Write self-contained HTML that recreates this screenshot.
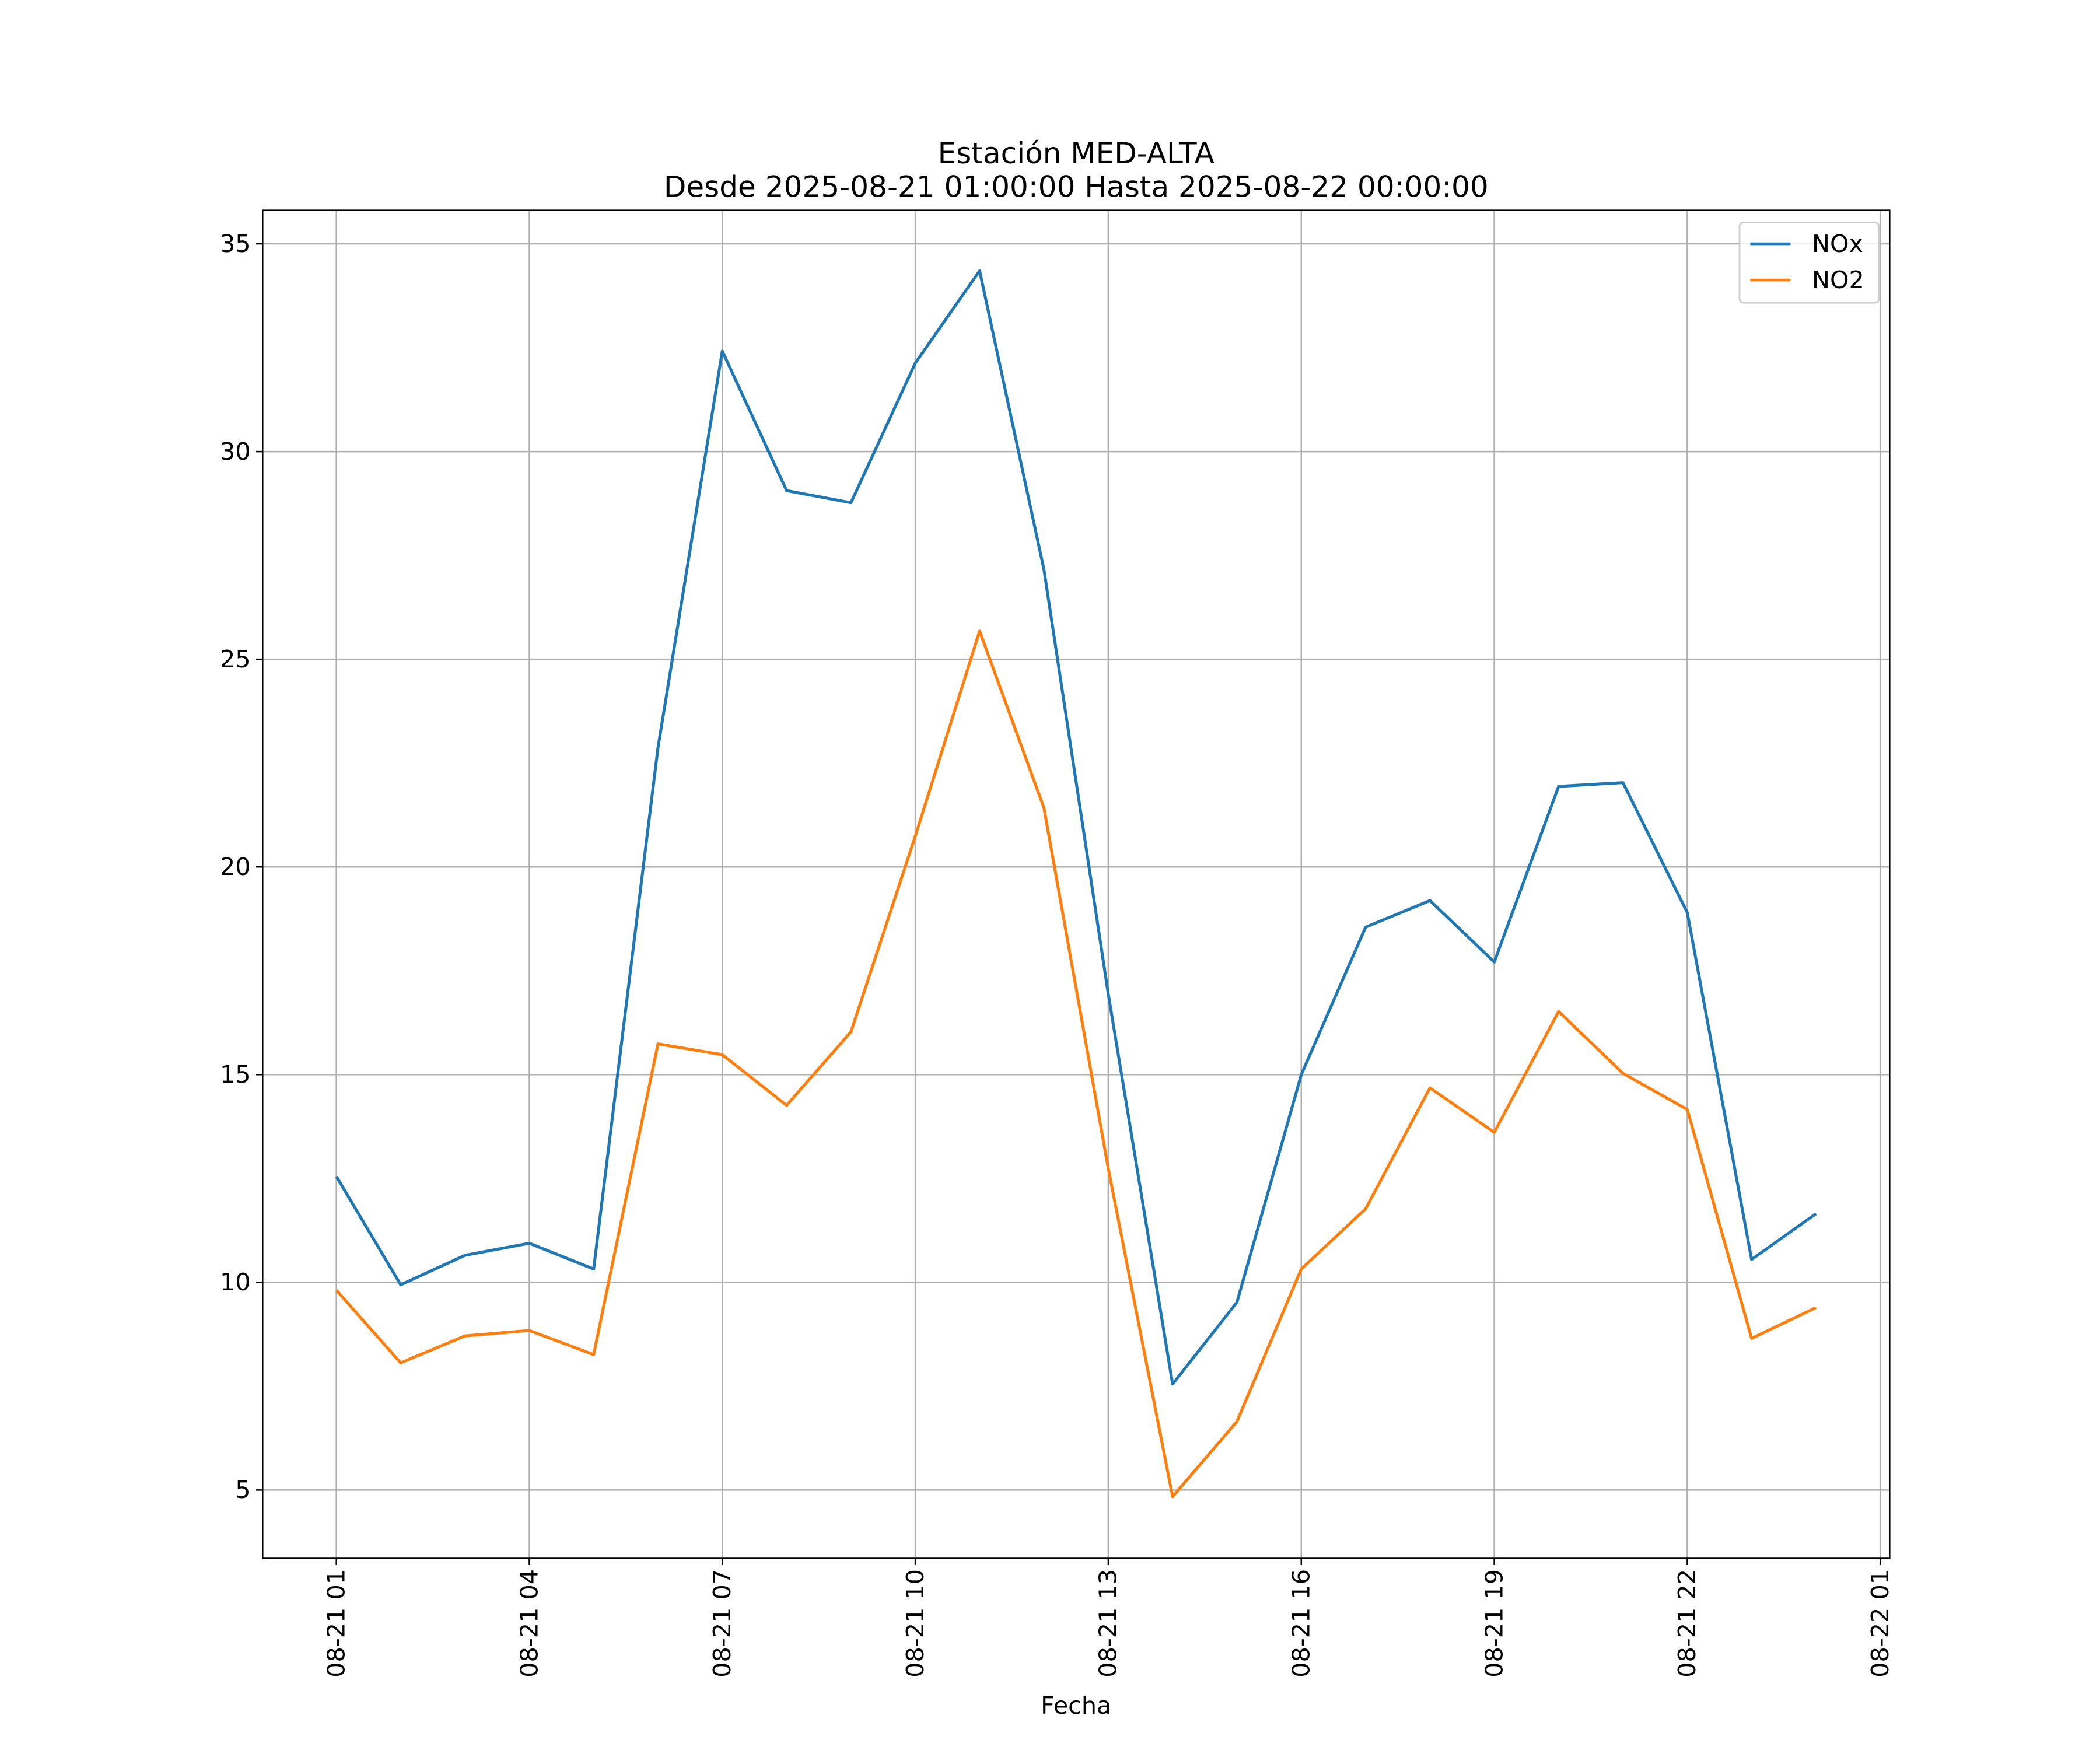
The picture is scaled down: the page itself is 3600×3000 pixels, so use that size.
<!DOCTYPE html>
<html><head><meta charset="utf-8"><style>
html,body{margin:0;padding:0;background:#fff}
svg{display:block;font-family:"DejaVu Sans","Liberation Sans",sans-serif}
</style></head><body>
<svg id="chart" width="3600" height="3000" viewBox="0 0 1567 1306" preserveAspectRatio="none" xmlns="http://www.w3.org/2000/svg">
<rect width="1567" height="1306" fill="#fff"/>
<g id="grid"></g>
<g id="series"></g>
<rect x="196" y="157" width="1214" height="1006" fill="none" stroke="#000" stroke-width="1.1"/>
<g id="ticks"></g>
<text x="803" y="122" text-anchor="middle" font-size="21.8">Estación MED-ALTA</text>
<text x="803" y="147" text-anchor="middle" font-size="21.8">Desde 2025-08-21 01:00:00 Hasta 2025-08-22 00:00:00</text>
<text x="803" y="1279" text-anchor="middle" font-size="18">Fecha</text>
<g>
<rect x="1298" y="166" width="104" height="60" rx="3" fill="#fff" fill-opacity="0.8" stroke="#ccc" stroke-width="1.2"/>
<line x1="1306" y1="182" x2="1336" y2="182" stroke="#1f77b4" stroke-width="2"/>
<text x="1352" y="188" font-size="18">NOx</text>
<line x1="1306" y1="209" x2="1336" y2="209" stroke="#ff7f0e" stroke-width="2"/>
<text x="1352" y="215" font-size="18">NO2</text>
</g>
</svg>
<script>
const hours = [1,2,3,4,5,6,7,8,9,10,11,12,13,14,15,16,17,18,19,20,21,22,23,24];
const noxValues = [12.55,9.94,10.65,10.94,10.32,22.87,32.42,29.06,28.77,32.13,34.35,27.16,16.94,7.55,9.52,15.0,18.55,19.19,17.71,21.94,22.03,18.9,10.55,11.65];
const no2Values = [9.81,8.06,8.71,8.84,8.26,15.74,15.48,14.26,16.03,20.74,25.68,21.42,12.74,4.84,6.65,10.32,11.77,14.68,13.61,16.52,15.03,14.16,8.65,9.39];
const yTicks = [5,10,15,20,25,30,35];
const xTickHours = [1,4,7,10,13,16,19,22,25];
const xTickLabels = ["08-21 01","08-21 04","08-21 07","08-21 10","08-21 13","08-21 16","08-21 19","08-21 22","08-22 01"];

const X0=196,X1=1410,Y0=1163,Y1=157;
const xMin=-0.146, xMax=25.146, yMin=3.355, yMax=35.806;
const xs=h=>X0+(h-xMin)/(xMax-xMin)*(X1-X0);
const ys=v=>Y0-(v-yMin)/(yMax-yMin)*(Y0-Y1);
const NS="http://www.w3.org/2000/svg";
const grid=document.getElementById('grid'),ticks=document.getElementById('ticks'),ser=document.getElementById('series');
function mk(tag,attrs,parent){const e=document.createElementNS(NS,tag);for(const k in attrs)e.setAttribute(k,attrs[k]);parent.appendChild(e);return e;}
yTicks.forEach(v=>{
  const y=ys(v);
  const g=mk('line',{x1:X0,x2:X1,y1:y,y2:y,stroke:'#b0b0b0','stroke-width':1.1},grid);
  
  
  const t=mk('line',{x1:X0-5,x2:X0,y1:y,y2:y,stroke:'#000','stroke-width':1.1},ticks);
  
  
  const l=mk('text',{x:X0-9,y:y+6,'text-anchor':'end','font-size':18},ticks);
  l.textContent=v;
  
  
});
xTickHours.forEach((h,i)=>{
  const x=xs(h);
  const g=mk('line',{x1:x,x2:x,y1:Y0,y2:Y1,stroke:'#b0b0b0','stroke-width':1.1},grid);
  
  
  const t=mk('line',{x1:x,x2:x,y1:Y0,y2:Y0+5,stroke:'#000','stroke-width':1.1},ticks);
  
  
  const l=mk('text',{x:0,y:0,'text-anchor':'end','font-size':18,transform:`translate(${x+6},${Y0+8}) rotate(-90)`},ticks);
  l.textContent=xTickLabels[i];
  
  
});
function line(vals,color,name){
  const p=mk('polyline',{points:vals.map((v,i)=>xs(hours[i])+','+ys(v)).join(' '),fill:'none',stroke:color,'stroke-width':2.2,'stroke-linejoin':'round'},ser);
  
  
}
line(noxValues,'#1f77b4','nox-line');
line(no2Values,'#ff7f0e','no2-line');
</script>
</body></html>
